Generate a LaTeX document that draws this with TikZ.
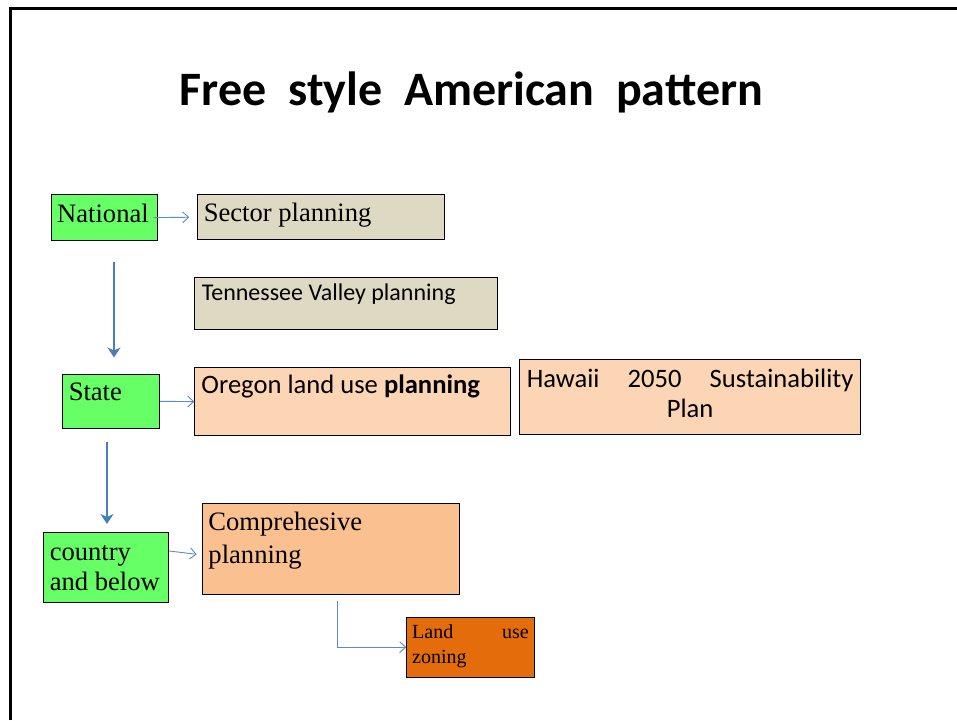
\documentclass[tikz,border=0pt]{standalone}
\usepackage{fontspec}
\setmainfont{Liberation Serif}
\newfontfamily\calibri{Carlito}
\usetikzlibrary{arrows.meta,calc}
\definecolor{grn}{HTML}{66FF66}
\definecolor{tanbox}{HTML}{DDD9C3}
\definecolor{peach}{HTML}{FCD5B5}
\definecolor{apricot}{HTML}{FAC090}
\definecolor{orng}{HTML}{E46C0A}
\definecolor{thickblue}{HTML}{4A7EBB}
\definecolor{thinblue}{HTML}{5B8BC8}
% #1 height, #2 width, #3 first-baseline offset, #4 text
\newcommand\boxtext[4]{\parbox[b][#1pt][t]{#2pt}{\rule{0pt}{#3pt}#4}}
\newcommand\tmsfont{\fontsize{26.6}{32.7}\selectfont}
\newcommand\calfont{\calibri\fontsize{24}{30}\selectfont}
\newcommand\calbig{\calibri\fontsize{26.6}{30}\selectfont}
\tikzset{
  x=1pt, y=-1pt,
  boxnode/.style={draw=black, line width=0.9pt, inner ysep=0pt, anchor=north west},
  thinarr/.style={draw=thinblue, line width=0.9pt, -{Straight Barb[length=6pt,width=11pt]}},
  thickarr/.style={draw=thickblue, line width=2.8pt, -{Stealth[length=10pt,width=13pt,inset=3pt]}},
  frameline/.style={line width=3pt, draw=black, line cap=butt, line join=miter}
}
\begin{document}
\begin{tikzpicture}
\useasboundingbox (0,0) rectangle (957,720);
\fill[white] (0,0) rectangle (957,720);
\draw[frameline] (10.5,720) -- (10.5,8) -- (957,8);

\node (title) [anchor=base] at (471.5,105) {\calibri\bfseries\fontsize{48}{58}\selectfont Free\ \ style\ \ American\ \ pattern};

\node (national) [boxnode, fill=grn, inner xsep=6pt] at (50.7,194.3)
  {\boxtext{45.7}{94}{27.4}{\tmsfont National}};
\node (sector) [boxnode, fill=tanbox, inner xsep=6.6pt] at (196.7,194.3)
  {\boxtext{45}{234.4}{26.7}{\tmsfont Sector planning}};
\node (tenn) [boxnode, fill=tanbox, inner xsep=7pt] at (194.3,276.7)
  {\boxtext{52.3}{288.4}{23.3}{\calfont Tennessee Valley planning}};
\node (state) [boxnode, fill=grn, inner xsep=6.6pt] at (61.7,374)
  {\boxtext{53.7}{84.4}{26}{\tmsfont State}};
\node (oregon) [boxnode, fill=peach, inner xsep=6.7pt] at (194.3,367.3)
  {\boxtext{67.7}{302.3}{25.4}{\calbig Oregon land use \textbf{planning}}};
\node (hawaii) [boxnode, fill=peach, inner xsep=7pt] at (519.3,359.3)
  {\boxtext{75}{326.7}{27.4}{\calbig\makebox[\linewidth][s]{Hawaii 2050 Sustainability}\par{\centering Plan\par}}};
\node (country) [boxnode, fill=grn, inner xsep=6pt] at (43.3,532.3)
  {\boxtext{69.4}{113}{27.7}{\fontsize{26.6}{30}\selectfont country\\and below}};
\node (comp) [boxnode, fill=apricot, inner xsep=5.7pt] at (202.3,503.3)
  {\boxtext{90.7}{245.6}{26.7}{\tmsfont Comprehesive\\planning}};
\node (land) [boxnode, fill=orng, inner xsep=5.4pt] at (406.3,616.7)
  {\boxtext{60}{116.6}{21.3}{\fontsize{20}{25}\selectfont\makebox[\linewidth][s]{Land use}\\zoning}};

% thin connectors
\draw[thinarr] ($(national.east)+(-4,0)$) -- ($(sector.west)+(-7.5,0)$);
\draw[thinarr] (state.east) -- (oregon.west);
\draw[thinarr] ($(country.north east)+(0,18.7)$) -- ($(comp.north west)+(-5.6,51)$);
\coordinate (cdrop) at (337.7,601);
\draw[thinarr] (cdrop) |- (land.west);

% thick arrows
\coordinate (a1s) at (114,262);
\coordinate (a1e) at (114,357.5);
\draw[thickarr] (a1s) -- (a1e);
\coordinate (a2s) at (107,442);
\coordinate (a2e) at (107,524);
\draw[thickarr] (a2s) -- (a2e);
\end{tikzpicture}
\end{document}
